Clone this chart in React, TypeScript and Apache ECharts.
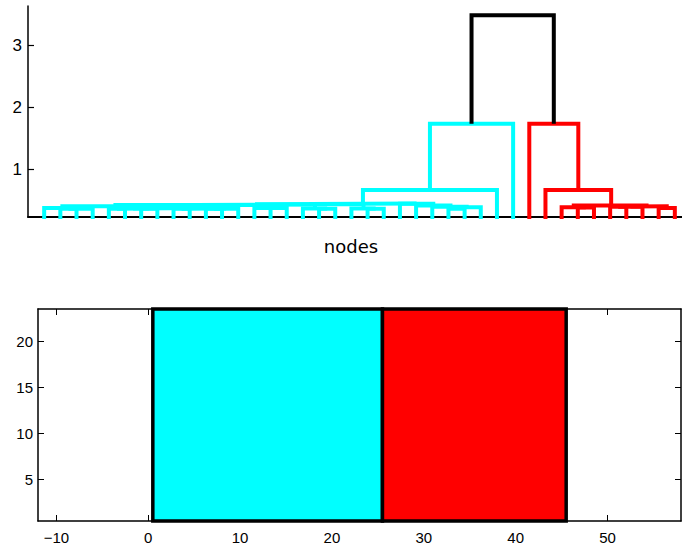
import React, { useEffect, useRef } from "react";
import * as echarts from "echarts";

// ---- Dendrogram (upper panel) ----
// Leaves are shown left to right; joinHeights[i] is the height at which
// leaf i+1 and leaf i+2 first end up in the same cluster.
const leafCount = 40;
const joinHeights = [
  0.37, 0.36, 0.365, 0.4, 0.36, 0.365, 0.36, 0.37, 0.36, 0.365,
  0.36, 0.365, 0.42, 0.37, 0.375, 0.43, 0.365, 0.36, 0.435, 0.365,
  0.36, 0.445, 0.44, 0.41, 0.39, 0.36, 0.385, 0.66, 1.73, 3.48,
  1.73, 0.66, 0.385, 0.38, 0.41, 0.39, 0.395, 0.4, 0.37,
];
const clusterColors = ["#00ffff", "#ff0000"];
const linkColorAbove = "#000000";
const topYTicks = [1, 2, 3];
const topXLabel = "nodes";

// ---- Cluster blocks (lower panel) ----
const blockStarts = [0.5, 25.5];
const blockEnds = [25.5, 45.5];
const blockBottom = 0.5;
const blockTop = 23.5;
const bottomXTicks = [-10, 0, 10, 20, 30, 40, 50];
const bottomYTicks = [5, 10, 15, 20];

type TreeNode = { x: number; h: number };
type Link = { pts: number[][]; h: number; color: string };

// Rebuild the tree from the join heights (highest join splits first) and
// produce one U-shaped link per merge, coloured by cluster below 70% of max.
function buildLinks(): Link[] {
  const links: Link[] = [];
  const threshold = 0.7 * Math.max(...joinHeights);
  let nextColor = 0;
  const build = (lo: number, hi: number, color: string | null): TreeNode => {
    if (lo === hi) return { x: lo + 1, h: 0 };
    let g = lo;
    for (let k = lo; k < hi; k++) if (joinHeights[k] > joinHeights[g]) g = k;
    const h = joinHeights[g];
    let c = color;
    if (h >= threshold) c = null;
    else if (c === null) c = clusterColors[nextColor++ % clusterColors.length];
    const left = build(lo, g, c);
    const right = build(g + 1, hi, c);
    links.push({
      pts: [
        [left.x, left.h],
        [left.x, h],
        [right.x, h],
        [right.x, right.h],
      ],
      h,
      color: c ?? linkColorAbove,
    });
    return { x: (left.x + right.x) / 2, h };
  };
  build(0, leafCount - 1, null);
  links.sort((a, b) => a.h - b.h);
  return links;
}

// Only print the listed tick values; the axis extent ends stay blank.
const labelOnly = (allowed: number[]) => (v: number) =>
  allowed.some((a) => Math.abs(a - v) < 1e-9) ? String(v).replace("-", "\u2212") : "";

function buildOption(): echarts.EChartsOption {
  const links = buildLinks();
  const dendroSeries = links.map((l) => ({
    type: "line" as const,
    xAxisIndex: 0,
    yAxisIndex: 0,
    data: l.pts,
    symbol: "none",
    clip: true,
    silent: true,
    lineStyle: { color: l.color, width: 4, join: "miter", cap: "butt" },
  }));

  const blockData = blockStarts.map((s, i) => [s, blockEnds[i], blockBottom, blockTop, i]);

  const fam = "Liberation Sans, Arial, sans-serif";

  return {
    animation: false,
    backgroundColor: "#ffffff",
    grid: [
      { left: 28, top: 6, width: 663, height: 211, outerBoundsMode: "none", containLabel: false },
      { left: 38, top: 309, width: 643, height: 212, outerBoundsMode: "none", containLabel: false },
    ],
    xAxis: [
      {
        gridIndex: 0,
        type: "value",
        min: 0,
        max: leafCount + 1,
        axisLine: { show: true, onZero: false, lineStyle: { color: "#000", width: 2 } },
        axisTick: { show: false },
        axisLabel: { show: false },
        splitLine: { show: false },
      },
      {
        gridIndex: 1,
        type: "value",
        position: "bottom",
        min: -12,
        max: 58,
        splitNumber: 7,
        axisLine: { show: true, onZero: false, lineStyle: { color: "#000", width: 1.5 } },
        axisTick: { show: true, inside: true, length: 6, customValues: bottomXTicks, lineStyle: { color: "#000", width: 1 } },
        axisLabel: {
          show: true,
          formatter: labelOnly(bottomXTicks),
          showMinLabel: false,
          showMaxLabel: false,
          fontSize: 15,
          fontFamily: fam,
          color: "#000",
          margin: 9,
        },
        splitLine: { show: false },
      },
      {
        gridIndex: 1,
        type: "value",
        position: "top",
        min: -12,
        max: 58,
        axisLine: { show: true, onZero: false, lineStyle: { color: "#000", width: 1.5 } },
        axisTick: { show: true, inside: true, length: 6, customValues: bottomXTicks, lineStyle: { color: "#000", width: 1 } },
        axisLabel: { show: false },
        splitLine: { show: false },
      },
    ],
    yAxis: [
      {
        gridIndex: 0,
        type: "value",
        min: 0.226,
        max: 3.63,
        splitNumber: 3,
        axisLine: { show: true, onZero: false, lineStyle: { color: "#000", width: 1.5 } },
        axisTick: { show: true, inside: true, length: 6, customValues: topYTicks, lineStyle: { color: "#000", width: 1.2 } },
        axisLabel: {
          show: true,
          formatter: labelOnly(topYTicks),
          showMinLabel: false,
          showMaxLabel: false,
          fontSize: 17,
          fontFamily: fam,
          color: "#000",
          margin: 6,
        },
        splitLine: { show: false },
      },
      {
        gridIndex: 1,
        type: "value",
        position: "left",
        min: blockBottom,
        max: blockTop,
        splitNumber: 5,
        axisLine: { show: true, onZero: false, lineStyle: { color: "#000", width: 1.5 } },
        axisTick: { show: true, inside: true, length: 6, customValues: bottomYTicks, lineStyle: { color: "#000", width: 1 } },
        axisLabel: {
          show: true,
          formatter: labelOnly(bottomYTicks),
          showMinLabel: false,
          showMaxLabel: false,
          fontSize: 15,
          fontFamily: fam,
          color: "#000",
          margin: 5,
        },
        splitLine: { show: false },
      },
      {
        gridIndex: 1,
        type: "value",
        position: "right",
        min: blockBottom,
        max: blockTop,
        axisLine: { show: true, onZero: false, lineStyle: { color: "#000", width: 1.5 } },
        axisTick: { show: true, inside: true, length: 6, customValues: bottomYTicks, lineStyle: { color: "#000", width: 1 } },
        axisLabel: { show: false },
        splitLine: { show: false },
      },
    ],
    graphic: [
      {
        type: "text",
        x: 351,
        y: 246,
        style: {
          text: topXLabel,
          fill: "#000",
          font: "18px 'DejaVu Sans', sans-serif",
          textAlign: "center",
          textVerticalAlign: "middle",
        },
      },
    ],
    series: [
      ...dendroSeries,
      {
        type: "custom",
        xAxisIndex: 1,
        yAxisIndex: 1,
        silent: true,
        data: blockData,
        renderItem: (_params: any, api: any) => {
          const p0 = api.coord([api.value(0), api.value(2)]);
          const p1 = api.coord([api.value(1), api.value(3)]);
          const idx = api.value(4) as number;
          return {
            type: "rect",
            shape: { x: p0[0], y: p1[1], width: p1[0] - p0[0], height: p0[1] - p1[1] },
            style: { fill: clusterColors[idx], stroke: "#000", lineWidth: 3.5 },
          };
        },
      } as any,
    ],
  } as echarts.EChartsOption;
}

export default function App() {
  const ref = useRef<HTMLDivElement>(null);
  useEffect(() => {
    if (!ref.current) return;
    const chart = echarts.init(ref.current, undefined, { renderer: "svg" });
    chart.setOption(buildOption());
    return () => chart.dispose();
  }, []);
  return (
    <div
      ref={ref}
      style={{ position: "fixed", left: 0, top: 0, width: 682, height: 548, background: "#fff" }}
    />
  );
}
